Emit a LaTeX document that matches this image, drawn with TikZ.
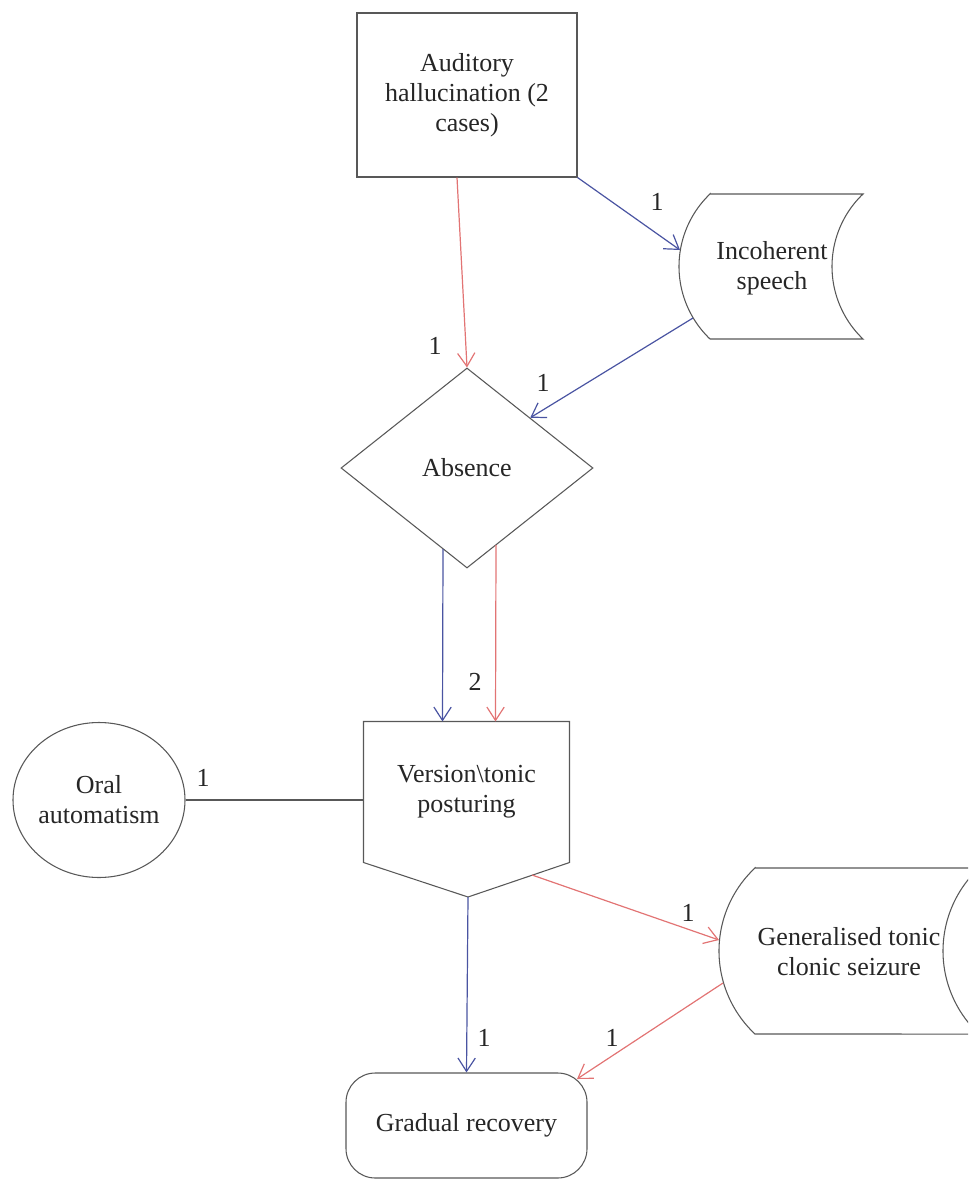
\documentclass[tikz,border=0pt]{standalone}
\usepackage{fontspec}
\setmainfont{Liberation Serif}
\usetikzlibrary{arrows.meta,shapes.geometric}

\definecolor{flowblue}{RGB}{74,84,162}
\definecolor{flowred}{RGB}{226,116,116}
\definecolor{shapegray}{RGB}{88,88,88}

\tikzset{every picture/.style={line width=0.75pt}}
\tikzset{
  boxtext/.style={inner sep=0pt, align=center, text=black!85,
    font=\fontsize{19.5}{22.5}\selectfont},
  flowbox/.style={boxtext, draw=shapegray, line width=0.8pt},
  shapeline/.style={draw=shapegray, line width=0.8pt},
  numlabel/.style={inner sep=0pt, text=black!85, font=\fontsize{19.5}{22.5}\selectfont},
  bluearrow/.style={draw=flowblue, line width=0.9pt, -{Straight Barb[length=10pt,width=13pt]}},
  redarrow/.style={draw=flowred, line width=0.9pt, -{Straight Barb[length=10pt,width=13pt]}},
  plainline/.style={draw=shapegray, line width=0.8pt}
}

\begin{document}
\begin{tikzpicture}[x=0.75pt,y=0.75pt,yscale=-1,xscale=1]
\useasboundingbox (0,0) rectangle (968,1180);
\clip (0,0) rectangle (968,1180);

%Shape: Rectangle
\node [flowbox, rectangle, minimum width=165pt, minimum height=123pt] (aud) at (467,95) {Auditory\\hallucination (2\\cases)};
%Shape: Diamond
\node [flowbox, diamond, minimum width=189pt, minimum height=150pt] (absence) at (467,468) {Absence};
%Shape: Ellipse
\node [flowbox, ellipse, minimum width=129pt, minimum height=116.25pt] (oral) at (99,800) {Oral\\automatism};
%Shape: Rounded Rect
\node [flowbox, rectangle, rounded corners=22pt, minimum width=180.75pt, minimum height=78.75pt] (gradual) at (466.5,1125.5) {Gradual recovery};

%Shape: Off-page connector
\node [boxtext, minimum width=153.75pt, minimum height=105pt] (version) at (466.5,792) {Version\textbackslash tonic\\posturing};
\coordinate (vtip) at (468,897);
\draw [shapeline] (version.south west) -- (version.north west) -- (version.north east) -- (version.south east) -- (vtip) -- cycle;

%Shape: Stored data
\draw [shapeline] (710,194) -- (863,194) arc [start angle=226.3, end angle=133.7, radius=100.3] -- (710,339) arc [start angle=133.7, end angle=226.3, radius=100.3] -- cycle;
\node [boxtext] (inc) at (772,268) {Incoherent\\speech};
%Shape: Stored data
\draw [shapeline] (755,868) -- (979,868) arc [start angle=226.9, end angle=133.1, radius=113.7] -- (755,1034) arc [start angle=133.1, end angle=226.9, radius=113.7] -- cycle;
\node [boxtext] (gen) at (849,952) {Generalised tonic\\clonic seizure};

% connector ends
\coordinate (inc-w) at (680,250);
\coordinate (inc-sw) at (693,318);
\coordinate (abs-sl) at (443,549);
\coordinate (abs-sr) at (496,545);
\coordinate (ver-se) at (532,875);
\coordinate (gen-w) at (719,940);
\coordinate (gen-sw) at (723,983);
\coordinate (grad-ne) at (577,1079);

%Straight Lines
\draw [redarrow] ([xshift=-7.5pt]aud.south) -- (absence.north);
\draw [bluearrow] (aud.south east) -- (inc-w);
\draw [bluearrow] (inc-sw) -- (absence.north east);
\draw [bluearrow] (abs-sl) -- ([xshift=-18pt]version.north);
\draw [redarrow] (abs-sr) -- ([xshift=21.75pt]version.north);
\draw [plainline] (oral.east) -- (oral.east -| version.west);
\draw [bluearrow] (vtip) -- (gradual.north);
\draw [redarrow] (ver-se) -- (gen-w);
\draw [redarrow] (gen-sw) -- (grad-ne);

% Text Node
\node [numlabel] (n-aud-abs) at (435,346) {1};
% Text Node
\node [numlabel] (n-aud-inc) at (657,202) {1};
% Text Node
\node [numlabel] (n-inc-abs) at (543,383) {1};
% Text Node
\node [numlabel] (n-abs-ver) at (475,682) {2};
% Text Node
\node [numlabel] (n-oral) at (203,778) {1};
% Text Node
\node [numlabel] (n-ver-gen) at (688,913) {1};
% Text Node
\node [numlabel] (n-ver-grad) at (484,1038) {1};
% Text Node
\node [numlabel] (n-gen-grad) at (612,1038) {1};

\end{tikzpicture}
\end{document}
